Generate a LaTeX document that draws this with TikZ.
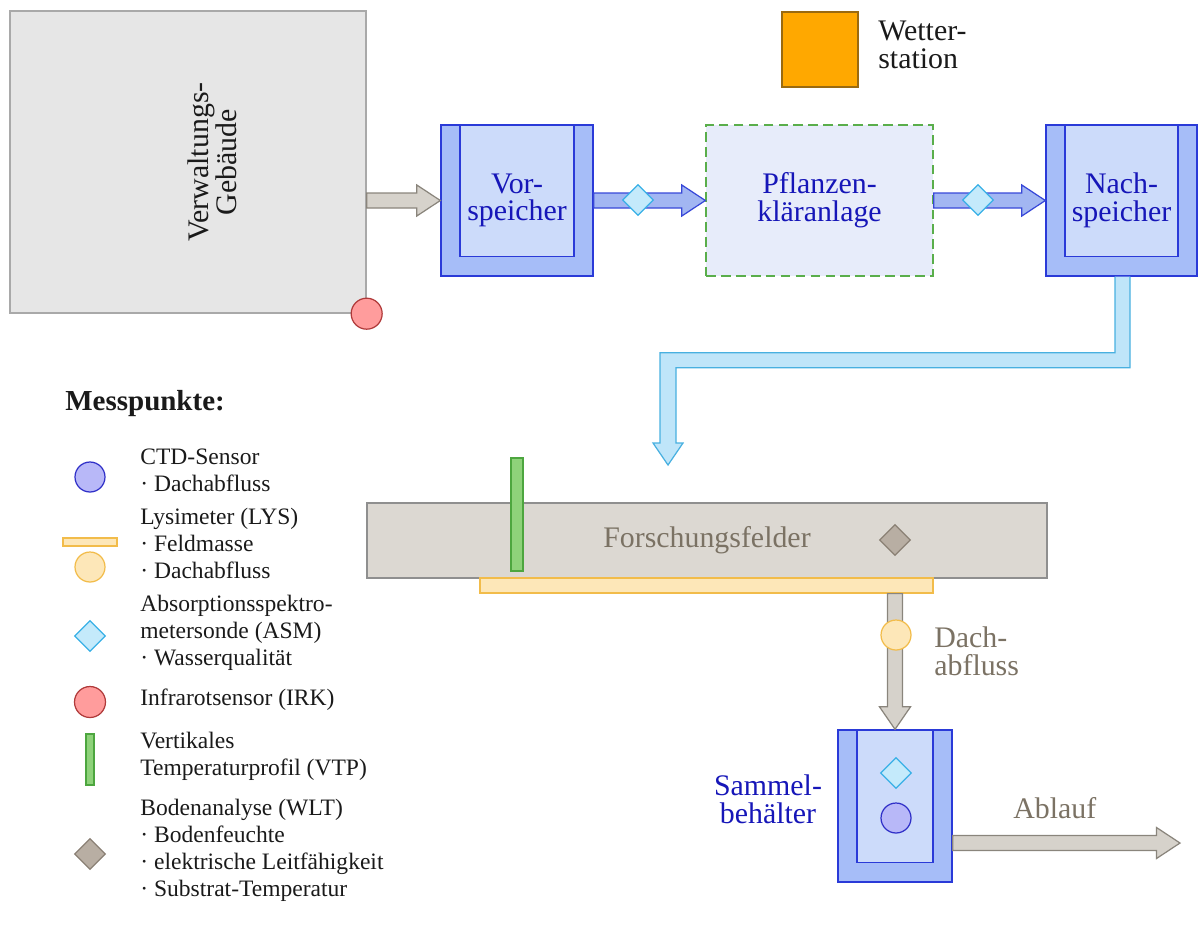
\documentclass[tikz,border=0pt]{standalone}
\usepackage{fontspec}
\setmainfont{Liberation Serif}
\usepackage{xcolor}
\usepackage{tikz}
\usetikzlibrary{calc,shapes.geometric}

\definecolor{bldgfill}{HTML}{E6E6E6}
\definecolor{bldgline}{HTML}{A9A9A9}
\definecolor{tankout}{HTML}{A6BDF8}
\definecolor{tankin}{HTML}{CCDBFA}
\definecolor{tankline}{HTML}{2A3AD8}
\definecolor{tanktext}{HTML}{1616B8}
\definecolor{pkafill}{HTML}{E7ECFA}
\definecolor{pkaline}{HTML}{5AAE4B}
\definecolor{flowfill}{HTML}{A2B6F2}
\definecolor{flowline}{HTML}{3848D8}
\definecolor{asmfill}{HTML}{C4EAFB}
\definecolor{asmline}{HTML}{38B0E6}
\definecolor{pipefill}{HTML}{BFE5F9}
\definecolor{pipeline}{HTML}{48B0E0}
\definecolor{fieldfill}{HTML}{DCD8D2}
\definecolor{fieldline}{HTML}{8F8F8F}
\definecolor{fieldtext}{HTML}{7B7264}
\definecolor{grayfill}{HTML}{D6D2CB}
\definecolor{grayline}{HTML}{8A857C}
\definecolor{lysfill}{HTML}{FDE7B8}
\definecolor{lysline}{HTML}{F2BC4A}
\definecolor{vtpfill}{HTML}{8ED27A}
\definecolor{vtpline}{HTML}{4DA63F}
\definecolor{wltfill}{HTML}{B8AEA3}
\definecolor{wltline}{HTML}{8A8074}
\definecolor{irkfill}{HTML}{FF9C9C}
\definecolor{irkline}{HTML}{B03A3A}
\definecolor{ctdfill}{HTML}{B8B8F8}
\definecolor{ctdline}{HTML}{3030C8}
\definecolor{wetterfill}{HTML}{FFA800}
\definecolor{wetterline}{HTML}{9A6A10}
\definecolor{legtext}{HTML}{1A1A1A}

\newcommand{\labfont}{\fontsize{17}{15.8}\selectfont}
\newcommand{\legfont}{\fontsize{13.4}{15.3}\selectfont}

\tikzset{
  tank/.style={rectangle, draw=tankline, fill=tankout, line width=0.8pt, inner sep=0pt,
    text=tanktext, align=center, font=\labfont,
    path picture={\draw[tankline, fill=tankin, line width=0.8pt]
      ([xshift=0.38cm]path picture bounding box.north west) rectangle
      ([xshift=-0.38cm,yshift=0.39cm]path picture bounding box.south east);}},
  bldg/.style={rectangle, draw=bldgline, fill=bldgfill, line width=0.8pt},
  pka/.style={rectangle, draw=pkaline, fill=pkafill, line width=0.8pt,
    dash pattern=on 5.5pt off 3pt, text=tanktext, align=center, font=\labfont},
  field/.style={rectangle, draw=fieldline, fill=fieldfill, line width=0.7pt,
    text=fieldtext, font=\labfont},
  ctd/.style={circle, draw=ctdline, fill=ctdfill, line width=0.7pt, minimum size=0.6cm, inner sep=0pt},
  lyscirc/.style={circle, draw=lysline, fill=lysfill, line width=0.7pt, minimum size=0.6cm, inner sep=0pt},
  lysbar/.style={rectangle, draw=lysline, fill=lysfill, line width=0.7pt, inner sep=0pt},
  asm/.style={diamond, draw=asmline, fill=asmfill, line width=0.7pt, minimum size=0.62cm, inner sep=0pt},
  irk/.style={circle, draw=irkline, fill=irkfill, line width=0.7pt, minimum size=0.62cm, inner sep=0pt},
  vtp/.style={rectangle, draw=vtpline, fill=vtpfill, line width=0.7pt, inner sep=0pt},
  wlt/.style={diamond, draw=wltline, fill=wltfill, line width=0.7pt, minimum size=0.62cm, inner sep=0pt},
  legend/.style={anchor=base west, align=left, font=\legfont, text=legtext, inner sep=0pt},
  harrow/.style={to path={let \p1=(\tikztostart), \p2=(\tikztotarget) in
    (\x1,\y1+0.15cm) -- (\x2-0.47cm,\y1+0.15cm) -- (\x2-0.47cm,\y1+0.31cm) -- (\x2,\y1)
    -- (\x2-0.47cm,\y1-0.31cm) -- (\x2-0.47cm,\y1-0.15cm) -- (\x1,\y1-0.15cm) -- cycle}},
  varrow/.style={to path={let \p1=(\tikztostart), \p2=(\tikztotarget) in
    (\x1-0.15cm,\y1) -- (\x1-0.15cm,\y2+0.45cm) -- (\x1-0.31cm,\y2+0.45cm) -- (\x1,\y2)
    -- (\x1+0.31cm,\y2+0.45cm) -- (\x1+0.15cm,\y2+0.45cm) -- (\x1+0.15cm,\y1) -- cycle}},
  flow/.style={harrow, draw=flowline, fill=flowfill, line width=0.7pt, line join=miter},
  grayflow/.style={draw=grayline, fill=grayfill, line width=0.7pt, line join=miter},
  pipe/.style={draw=pipeline, fill=pipefill, line width=0.7pt, line join=miter}
}

\begin{document}
\begin{tikzpicture}[x=0.02cm,y=-0.02cm]
\useasboundingbox (0,0) rectangle (1199,924);

\node[bldg, minimum width=7.12cm, minimum height=6.04cm] (bldg) at (188,162) {};
\node[rotate=90, align=center, font=\labfont, text=legtext] (bldgtext) at (212,162) {Verwaltungs-\\Geb\"aude};

\node[tank, minimum width=3.04cm, minimum height=3.02cm] (vor) at (517,200.5) {Vor-\\speicher};
\node[pka, minimum width=4.54cm, minimum height=3.02cm] (pka) at (819.5,200.5) {Pflanzen-\\kl\"aranlage};
\node[tank, minimum width=3.02cm, minimum height=3.02cm] (nach) at (1121.5,200.5) {Nach-\\speicher};

\node[rectangle, draw=wetterline, fill=wetterfill, line width=0.7pt, minimum width=1.52cm, minimum height=1.5cm] (wetter) at (820,49.5) {};
\node[legend, font=\labfont] (wettertext) at (878,68) {Wetter-\\station};

\draw[grayflow, harrow] (bldg.east |- vor) to (vor.west);
\node[irk] (irk1) at (bldg.south east) {};
\draw[flow] (vor.east) to (pka.west);
\draw[flow] (pka.east) to (nach.west);
\node[asm] (asm1) at (638,200) {};
\node[asm] (asm2) at (978,200) {};

\coordinate (pipeend) at (668,465);
\draw[pipe] ($(nach.south)+(8.5,0)$) -- ++(0,91) -| ($(pipeend)+(8,-22)$) -- ++(7,0) -- (pipeend)
  -- ++(-15,-22) -- ++(7,0) |- ($(nach.south)+(-6.5,76)$) -- ($(nach.south)+(-6.5,0)$);

\node[field, minimum width=13.6cm, minimum height=1.5cm] (field) at (707,540.5) {Forschungsfelder};
\node[vtp, minimum width=0.24cm, minimum height=2.26cm] (vtp1) at (517,514.5) {};
\node[wlt] (wlt1) at (895,540) {};
\node[lysbar, minimum width=9.06cm, minimum height=0.3cm] (lys) at (706.5,585.5) {};

\node[tank, minimum width=2.28cm, minimum height=3.04cm] (sam) at (895,806) {};
\node[asm] (asm3) at (896,773) {};
\node[ctd] (ctd1) at (896,818) {};
\node[anchor=base, align=center, font=\labfont, text=tanktext, inner sep=0pt] (samtext) at (768,823) {Sammel-\\beh\"alter};

\draw[grayflow, varrow] (lys.south -| sam) to (sam.north);
\node[lyscirc] (lys2) at (896,635) {};
\node[legend, font=\labfont, text=fieldtext] (dachtext) at (934,675) {Dach-\\abfluss};

\coordinate (ablaufend) at (1180,843);
\draw[grayflow, harrow] (sam.east |- ablaufend) to (ablaufend);
\node[legend, font=\labfont, text=fieldtext] (ablauftext) at (1013,818) {Ablauf};

\node[anchor=base west, inner sep=0pt, font=\fontsize{16.5}{18}\selectfont\bfseries, text=legtext] (title) at (65,410) {Messpunkte:};

\node[ctd] (lctd) at (90,477) {};
\node[legend] (tctd) at (140,491.5) {CTD-Sensor\\· Dachabfluss};
\node[lysbar, minimum width=1.08cm, minimum height=0.16cm] (llysbar) at (90,542) {};
\node[lyscirc] (llys) at (90,567) {};
\node[legend] (tlys) at (140,578) {Lysimeter (LYS)\\· Feldmasse\\· Dachabfluss};
\node[asm] (lasm) at (90,636) {};
\node[legend] (tasm) at (140,665.5) {Absorptionsspektro-\\metersonde (ASM)\\· Wasserqualit\"at};
\node[irk] (lirk) at (90,702) {};
\node[legend] (tirk) at (140,705) {Infrarotsensor (IRK)};
\node[vtp, minimum width=0.16cm, minimum height=1.02cm] (lvtp) at (90,759.5) {};
\node[legend] (tvtp) at (140,775) {Vertikales\\Temperaturprofil (VTP)};
\node[wlt] (lwlt) at (90,854) {};
\node[legend] (twlt) at (140,896.5) {Bodenanalyse (WLT)\\· Bodenfeuchte\\· elektrische Leitf\"ahigkeit\\· Substrat-Temperatur};

\end{tikzpicture}
\end{document}
